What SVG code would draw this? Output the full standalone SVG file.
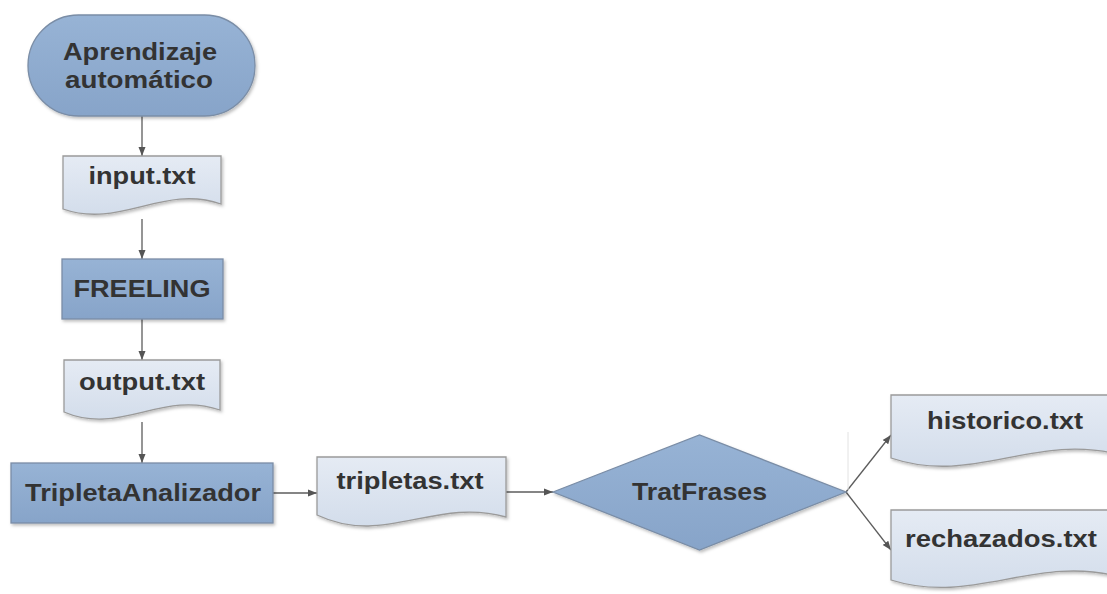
<svg xmlns="http://www.w3.org/2000/svg" width="1107" height="594" viewBox="0 0 1107 594">
  <defs>
    <linearGradient id="gBlue" x1="0" y1="0" x2="0" y2="1">
      <stop offset="0" stop-color="#97b3d5"/>
      <stop offset="1" stop-color="#87a4c9"/>
    </linearGradient>
    <linearGradient id="gDoc" x1="0" y1="0" x2="0" y2="1">
      <stop offset="0" stop-color="#e5ebf4"/>
      <stop offset="1" stop-color="#d3ddeb"/>
    </linearGradient>
    <filter id="sh" x="-10%" y="-10%" width="125%" height="130%">
      <feDropShadow dx="1.5" dy="2" stdDeviation="1.5" flood-color="#000" flood-opacity="0.25"/>
    </filter>
    <marker id="arr" markerUnits="userSpaceOnUse" markerWidth="10" markerHeight="8" refX="9" refY="4" orient="auto">
      <path d="M0,0.5 L9,4 L0,7.5 Z" fill="#555"/>
    </marker>
    <style>
      .blue { fill: url(#gBlue); stroke: #7a8da6; stroke-width: 1.3; filter: url(#sh); }
      .doc { fill: url(#gDoc); stroke: #9a9a9a; stroke-width: 1.3; filter: url(#sh); }
      .t { font-family: "Liberation Sans", Arial, sans-serif; font-weight: bold; font-size: 23px; fill: #333; text-anchor: middle; }
      .c { fill: none; stroke: #5c5c5c; stroke-width: 1.3; marker-end: url(#arr); }
    </style>
  </defs>
  <rect width="1107" height="594" fill="#ffffff"/>

  <g id="connectors">
    <line class="c" x1="142" y1="116" x2="142" y2="156"/>
    <line class="c" x1="142" y1="219" x2="142" y2="259"/>
    <line class="c" x1="142" y1="319" x2="142" y2="360"/>
    <line class="c" x1="142" y1="422" x2="142" y2="463"/>
    <line class="c" x1="273" y1="493" x2="317" y2="493"/>
    <line class="c" x1="506" y1="492" x2="553" y2="492"/>
    <line class="c" x1="846" y1="492" x2="891" y2="435"/>
    <line class="c" x1="846" y1="492" x2="891" y2="550"/>
    <line x1="848" y1="432" x2="848" y2="490" stroke="#e2e2e2" stroke-width="1"/>
  </g>

  <g id="aprendizaje">
    <rect class="blue" x="28" y="15" width="227" height="101" rx="50.5" ry="50.5"/>
    <text class="t" x="140" y="60" textLength="154" lengthAdjust="spacingAndGlyphs">Aprendizaje</text>
    <text class="t" x="139" y="88" textLength="148" lengthAdjust="spacingAndGlyphs">automático</text>
  </g>

  <g id="input">
    <path class="doc" d="M63,156 H221 V204 C163,184 120,229 63,209 Z"/>
    <text class="t" x="142" y="184" textLength="107" lengthAdjust="spacingAndGlyphs">input.txt</text>
  </g>

  <g id="freeling">
    <rect class="blue" x="62" y="259" width="161" height="60"/>
    <text class="t" x="142" y="297" textLength="137" lengthAdjust="spacingAndGlyphs">FREELING</text>
  </g>

  <g id="output">
    <path class="doc" d="M64,360 H220 V410 C162,390 120,436 64,412 Z"/>
    <text class="t" x="142" y="390" textLength="126" lengthAdjust="spacingAndGlyphs">output.txt</text>
  </g>

  <g id="tripletaAnalizador">
    <rect class="blue" x="11" y="463" width="262" height="60"/>
    <text class="t" x="143" y="501" textLength="236" lengthAdjust="spacingAndGlyphs">TripletaAnalizador</text>
  </g>

  <g id="tripletas">
    <path class="doc" d="M317,457 H506 V517 C434,497 385,547 317,515 Z"/>
    <text class="t" x="410" y="489" textLength="147" lengthAdjust="spacingAndGlyphs">tripletas.txt</text>
  </g>

  <g id="tratFrases">
    <polygon class="blue" points="553,492 699.5,435 846,492 699.5,550"/>
    <text class="t" x="699.5" y="500" textLength="135" lengthAdjust="spacingAndGlyphs">TratFrases</text>
  </g>

  <g id="historico">
    <path class="doc" d="M891,395 H1121 V455 C1034,432 974,486 891,458 Z"/>
    <text class="t" x="1005" y="429" textLength="156" lengthAdjust="spacingAndGlyphs">historico.txt</text>
  </g>

  <g id="rechazados">
    <path class="doc" d="M891,510 H1121 V577 C1034,554 974,606 891,580 Z"/>
    <text class="t" x="1001" y="547" textLength="192" lengthAdjust="spacingAndGlyphs">rechazados.txt</text>
  </g>
</svg>
